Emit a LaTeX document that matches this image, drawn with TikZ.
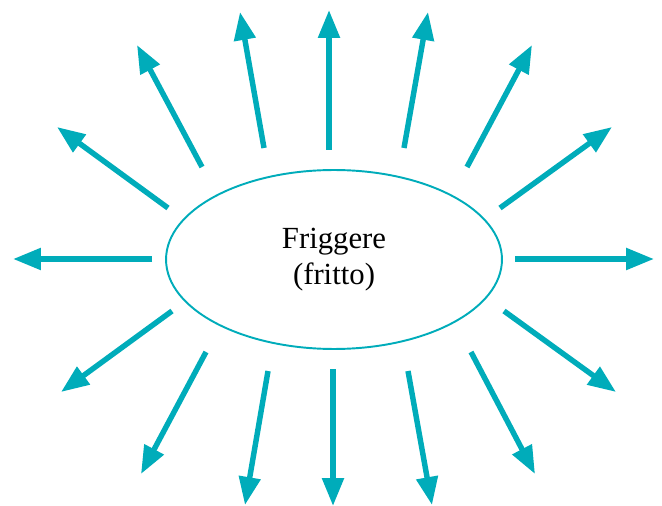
\documentclass[tikz,border=0pt]{standalone}
\usepackage{fontspec}
\setmainfont{Liberation Serif}
\usepackage{xcolor}
\definecolor{FryTeal}{RGB}{0,172,186}
\usetikzlibrary{
    arrows.meta,
    shapes.geometric
}

\begin{document}
\begin{tikzpicture}[
    x=0.02cm,
    y=-0.02cm,
%
    core/.style={
        draw=FryTeal,
        ellipse,
        line width=1.1pt,
        minimum width=6.72cm,
        minimum height=3.58cm,
        align=center,
        font=\fontsize{17.5}{20.5}\selectfont
    },
%
    ray/.style={
        -{Triangle[length=0.56cm,width=0.42cm]},
        line width=3.1pt,
        color=FryTeal
    }
]
\useasboundingbox (0,0) rectangle (662,506);
%
% Central term.
%
\node[core] (fry) at (334,259.5) {
    Friggere\\
    (fritto)
};
%
% Rays: inner end / outer end, clockwise from the top.
%
\foreach \k/\ix/\iy/\ox/\oy in {
    1/329/150/329/10,
    2/404/148/428/12,
    3/467/167/532/45,
    4/500/208/612/127,
    5/515/259/654/259,
    6/504/311/616/392,
    7/471/352/535/474,
    8/408/371/432/505,
    9/333/369/333/506,
    10/268/371/245/505,
    11/206/352/141/474,
    12/172/311/61/392,
    13/152/259/13/259,
    14/168/208/57/127,
    15/202/167/137/45,
    16/264/148/240/12%
} {
    \coordinate (in\k) at (\ix,\iy);
    \coordinate (out\k) at (\ox,\oy);
    \draw[ray] (in\k) -- (out\k);
}
%
\end{tikzpicture}
\end{document}
